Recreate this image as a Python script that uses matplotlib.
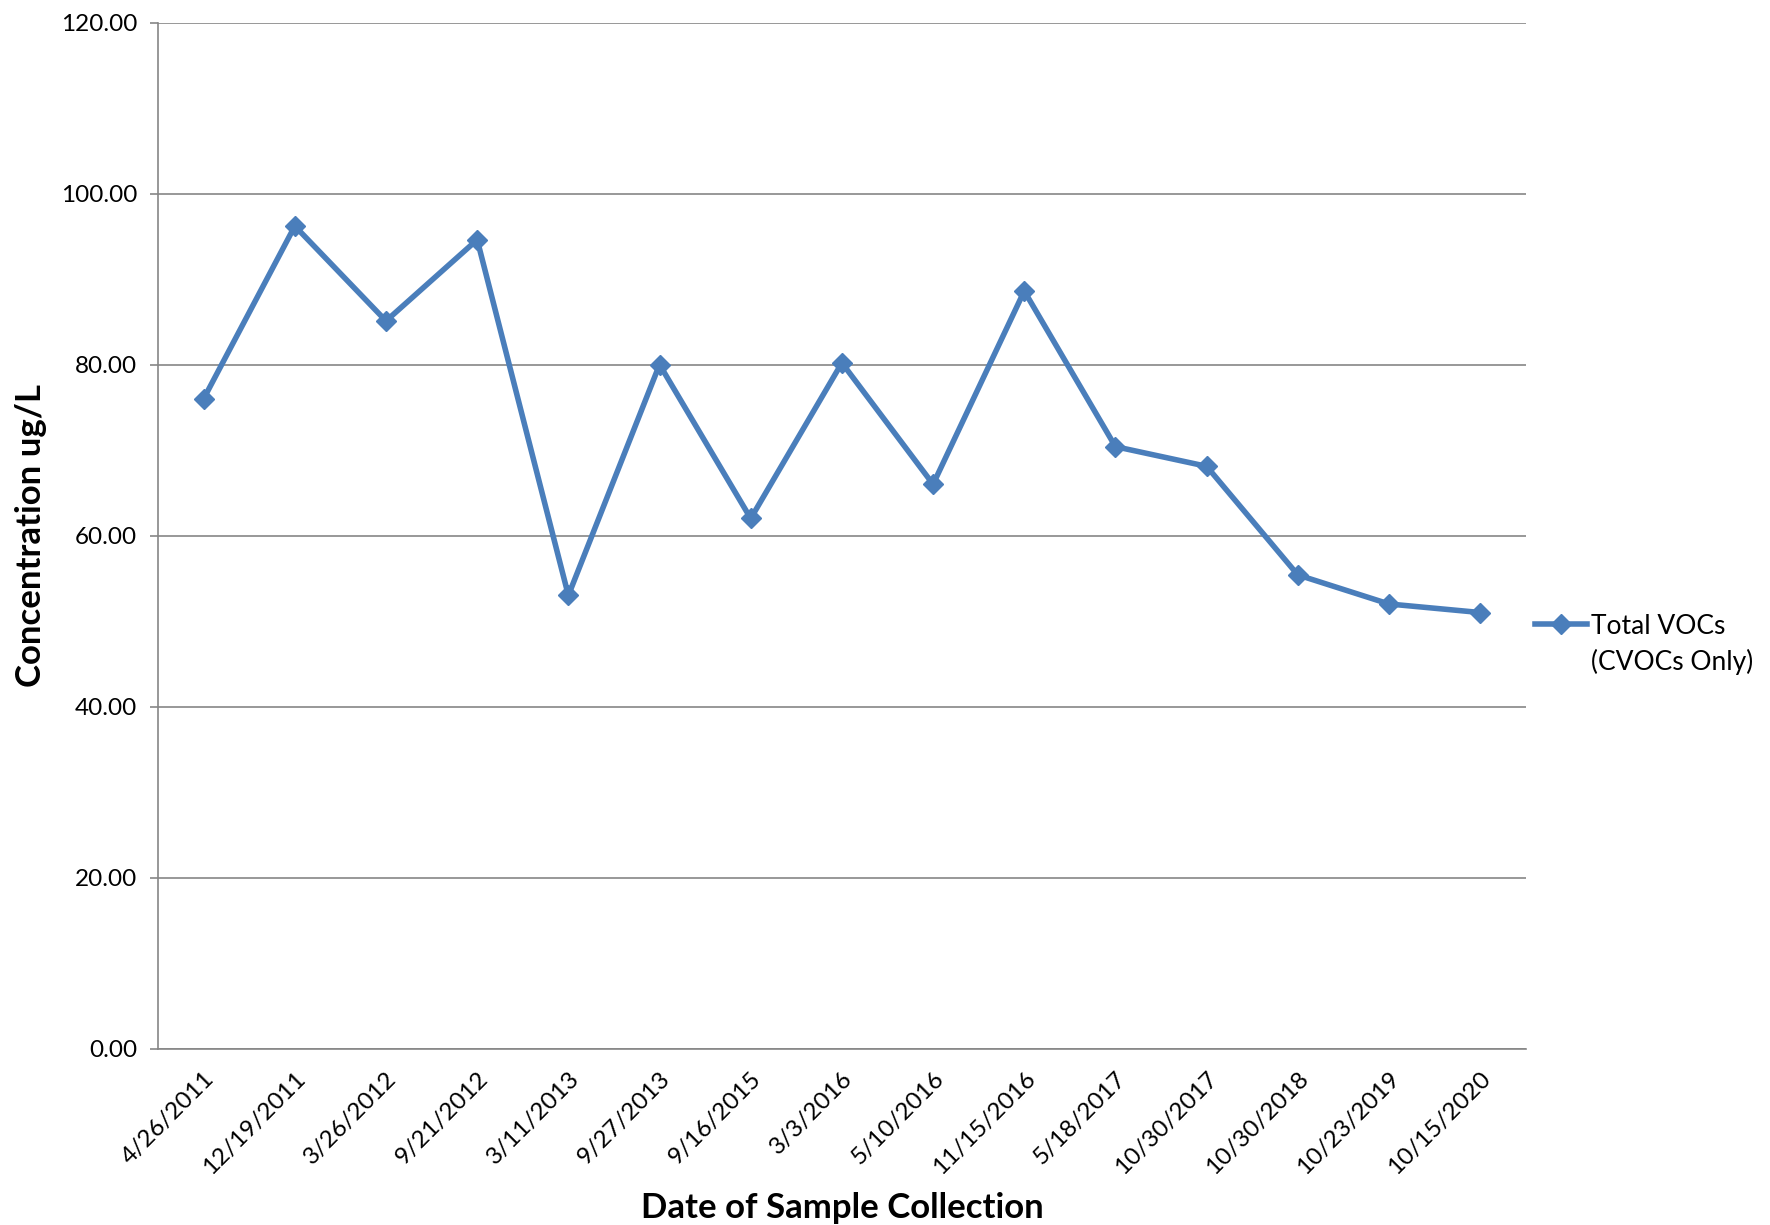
import matplotlib
matplotlib.use("Agg")
import matplotlib.pyplot as plt
from matplotlib.lines import Line2D

dates = ["4/26/2011", "12/19/2011", "3/26/2012", "9/21/2012", "3/11/2013",
         "9/27/2013", "9/16/2015", "3/3/2016", "5/10/2016", "11/15/2016",
         "5/18/2017", "10/30/2017", "10/30/2018", "10/23/2019", "10/15/2020"]
values = [76.0, 96.2, 85.1, 94.6, 53.0, 80.0, 62.0, 80.2, 66.0, 88.6,
          70.4, 68.1, 55.4, 52.0, 51.0]
yticks = [0, 20, 40, 60, 80, 100, 120]
series_name = ["Total VOCs", "(CVOCs Only)"]

plt.rcParams['font.family'] = ['Lato', 'DejaVu Sans']
color = "#4A7EBB"

fig = plt.figure(figsize=(17.7, 12.25), dpi=100)
ax = fig.add_axes([0.0893, 0.144, 0.7727, 0.8376])
x = list(range(len(dates)))
ax.plot(x, values, color=color, lw=4, marker="D", ms=10, mec=color, mfc=color)
ax.set_xlim(-0.5, len(dates) - 0.5)
ax.set_ylim(0, 120)
ax.set_yticks(yticks)
ax.set_yticklabels([f"{v:.2f}" for v in yticks], fontsize=17.5)
ax.set_xticks(x)
ax.set_xticklabels(dates, rotation=45, ha="right", rotation_mode="anchor", fontsize=17.5)
ax.tick_params(axis="x", length=0, pad=14)
ax.tick_params(axis="y", length=6, width=1.2, color="#868686", pad=9)
ax.grid(axis="y", color="#868686", lw=1.2)
ax.set_axisbelow(True)
for s in ["top", "right"]:
    ax.spines[s].set_visible(False)
ax.spines["left"].set_color("#868686")
ax.spines["bottom"].set_color("#868686")
ax.spines["left"].set_linewidth(1.2)
ax.spines["bottom"].set_linewidth(1.2)
ax.set_ylabel("Concentration ug/L", fontsize=25, fontweight="bold", labelpad=10)
ax.set_xlabel("Date of Sample Collection", fontsize=25, fontweight="bold", labelpad=10)

h1 = Line2D([0], [0], color=color, lw=4, marker="D", ms=10, mec=color, mfc=color)
h2 = Line2D([0], [0], color="none", lw=0)
fig.legend([h1, h2], series_name, loc="center left", bbox_to_anchor=(0.867, 0.474),
           frameon=False, fontsize=19, handlelength=2.0, handletextpad=0.15,
           labelspacing=0.4, borderpad=0, borderaxespad=0)
fig.savefig("out.png", dpi=100, facecolor="white")
